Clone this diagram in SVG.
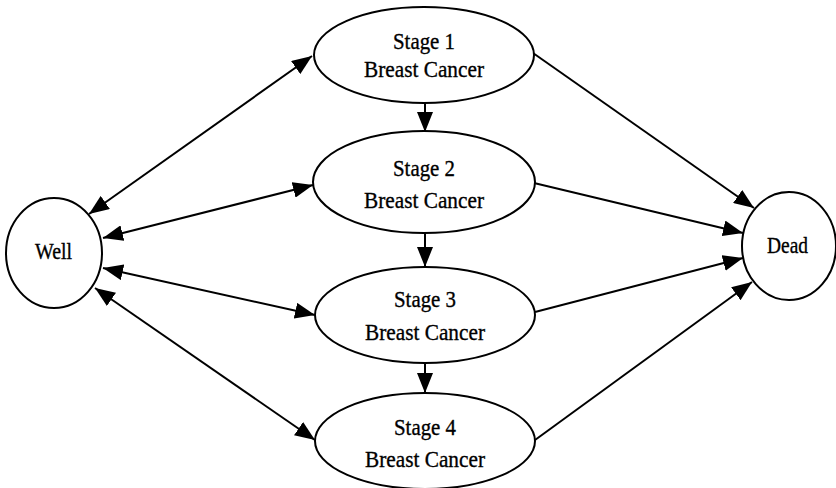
<svg xmlns="http://www.w3.org/2000/svg" width="836" height="488" viewBox="0 0 836 488">
<style>
.node{fill:#fff;stroke:#000;stroke-width:2}
.lbl{font-family:"Liberation Serif","Times New Roman",serif;font-size:24px;fill:#000;stroke:#000;stroke-width:0.35;text-anchor:middle}
.edge{stroke:#000;stroke-width:2;fill:none}
.one{marker-end:url(#ah)}
.two{marker-end:url(#ah);marker-start:url(#ah)}
</style>
<defs>
<marker id="ah" markerUnits="userSpaceOnUse" markerWidth="20" markerHeight="16" refX="20" refY="8" orient="auto-start-reverse" viewBox="0 0 20 16">
<path d="M0,0 L20,8 L0,16 z" fill="#000"/>
</marker>
</defs>
<rect width="836" height="488" fill="#fff"/>
<g id="connectors">
<line class="edge two" x1="89" y1="214" x2="312" y2="56"/>
<line class="edge two" x1="103" y1="238" x2="313" y2="185"/>
<line class="edge two" x1="103" y1="268" x2="315" y2="315"/>
<line class="edge two" x1="95" y1="288" x2="315" y2="440"/>
<line class="edge one" x1="533" y1="53" x2="754" y2="208"/>
<line class="edge one" x1="534" y1="183" x2="743" y2="233"/>
<line class="edge one" x1="535" y1="312" x2="743" y2="258"/>
<line class="edge one" x1="535" y1="440" x2="752" y2="282"/>
<line class="edge one" x1="425" y1="103" x2="425" y2="132"/>
<line class="edge one" x1="425" y1="233" x2="425" y2="267"/>
<line class="edge one" x1="425" y1="363" x2="425" y2="393"/>
</g>
<g id="well">
<ellipse class="node" cx="54" cy="253" rx="48" ry="55"/>
<text class="lbl" x="53.5" y="259" textLength="37" lengthAdjust="spacingAndGlyphs">Well</text>
</g>
<g id="dead">
<ellipse class="node" cx="789" cy="246" rx="47" ry="54"/>
<text class="lbl" x="787.5" y="253" textLength="41" lengthAdjust="spacingAndGlyphs">Dead</text>
</g>
<g id="stage1">
<ellipse class="node" cx="424" cy="55" rx="110" ry="48"/>
<text class="lbl" x="424" y="49" textLength="62" lengthAdjust="spacingAndGlyphs">Stage 1</text>
<text class="lbl" x="424" y="77" textLength="120" lengthAdjust="spacingAndGlyphs">Breast Cancer</text>
</g>
<g id="stage2">
<ellipse class="node" cx="424" cy="182" rx="111" ry="51"/>
<text class="lbl" x="424" y="176" textLength="62" lengthAdjust="spacingAndGlyphs">Stage 2</text>
<text class="lbl" x="424" y="208" textLength="120" lengthAdjust="spacingAndGlyphs">Breast Cancer</text>
</g>
<g id="stage3">
<ellipse class="node" cx="425" cy="315" rx="110" ry="48"/>
<text class="lbl" x="425" y="307" textLength="62" lengthAdjust="spacingAndGlyphs">Stage 3</text>
<text class="lbl" x="425" y="340" textLength="120" lengthAdjust="spacingAndGlyphs">Breast Cancer</text>
</g>
<g id="stage4">
<ellipse class="node" cx="425" cy="441" rx="110" ry="48"/>
<text class="lbl" x="425" y="435" textLength="62" lengthAdjust="spacingAndGlyphs">Stage 4</text>
<text class="lbl" x="425" y="467" textLength="120" lengthAdjust="spacingAndGlyphs">Breast Cancer</text>
</g>
</svg>
